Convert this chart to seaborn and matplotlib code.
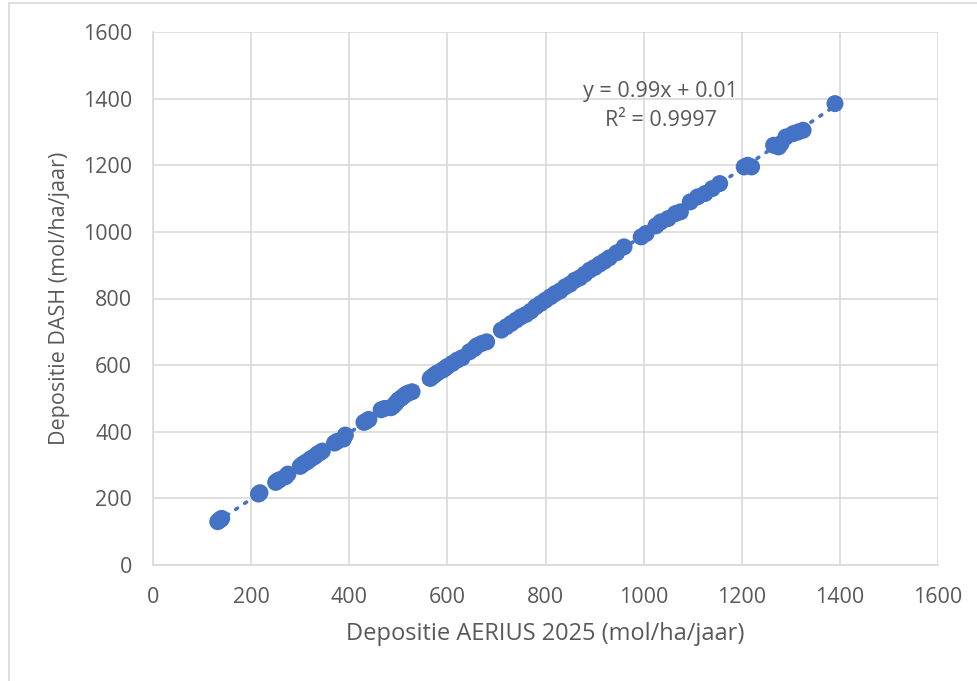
import numpy as np
import pandas as pd
import matplotlib
matplotlib.use("Agg")
import matplotlib.pyplot as plt
from matplotlib.lines import Line2D
import seaborn as sns

# values
aerius = [132, 135, 138, 140, 215, 218, 250, 253, 258, 270, 275,
          300, 305, 310, 315, 320, 325, 330, 335, 340, 345,
          370, 375, 388, 392, 430, 435, 440,
          465, 472, 485, 490, 495, 500, 505, 510, 515, 520, 528,
          565, 570, 575, 580, 590, 595, 600, 610, 620, 630,
          645, 655, 660, 670, 680,
          710, 720, 730, 740, 750, 760, 770, 780,
          790, 800, 810, 820, 830, 840, 850, 860, 870, 880, 890, 900,
          910, 920, 930, 945, 960, 995, 1005,
          1025, 1035, 1050, 1065, 1075, 1095, 1110, 1125, 1140, 1155,
          1205, 1212, 1220, 1265, 1275, 1280, 1290, 1305, 1315, 1325, 1390]
dash = [130, 134, 137, 140, 213, 217, 248, 252, 256, 265, 273,
        296, 302, 307, 311, 317, 322, 326, 333, 337, 342,
        366, 371, 378, 390, 428, 432, 437,
        466, 470, 472, 478, 486, 495, 500, 506, 512, 516, 520,
        560, 566, 572, 577, 585, 590, 596, 605, 615, 622,
        640, 650, 658, 665, 670,
        705, 715, 725, 735, 745, 752, 762, 775,
        785, 795, 805, 815, 823, 835, 843, 855, 862, 873, 885, 893,
        903, 912, 922, 937, 955, 985, 995,
        1018, 1030, 1040, 1055, 1060, 1090, 1105, 1115, 1130, 1145,
        1195, 1200, 1195, 1260, 1255, 1265, 1285, 1295, 1300, 1305, 1385]
ticks = [0, 200, 400, 600, 800, 1000, 1200, 1400, 1600]
trend_label = "y = 0.99x + 0.01\nR² = 0.9997"

df = pd.DataFrame({"aerius": aerius, "dash": dash})

sns.set_theme(style="white")
plt.rcParams["font.family"] = ["Open Sans", "DejaVu Sans"]

blue = "#4472C4"
grey_txt = "#595959"
grid_col = "#D9D9D9"

fig = plt.figure(figsize=(9.78, 6.81), dpi=100)
ax = fig.add_axes([153 / 978, 1 - 565 / 681, 785 / 978, 533 / 681])

# dotted linear trendline over the data range
slope, icpt = np.polyfit(df["aerius"], df["dash"], 1)
xs = np.array([df["aerius"].min(), df["aerius"].max()])
ax.plot(xs, slope * xs + icpt, color=blue, lw=2.6, linestyle=(0, (0.6, 2.4)),
        dash_capstyle="round", zorder=2)

sns.scatterplot(data=df, x="aerius", y="dash", ax=ax, color=blue, s=150,
                edgecolor="none", linewidth=0, zorder=3)

ax.set_xlim(0, 1600)
ax.set_ylim(0, 1600)
ax.set_xticks(ticks)
ax.set_yticks(ticks)
ax.grid(True, color=grid_col, lw=1.2)
ax.set_axisbelow(True)
for side in ["top", "right"]:
    ax.spines[side].set_visible(False)
for side in ["left", "bottom"]:
    ax.spines[side].set_color(grid_col)
    ax.spines[side].set_linewidth(1.2)
ax.tick_params(axis="both", length=0, labelsize=15.5, labelcolor=grey_txt)
ax.tick_params(axis="x", pad=16)
ax.tick_params(axis="y", pad=15)

ax.set_xlabel("Depositie AERIUS 2025 (mol/ha/jaar)", fontsize=17, color=grey_txt, labelpad=10)
ax.set_ylabel("Depositie DASH (mol/ha/jaar)", fontsize=15.5, color=grey_txt, labelpad=9)

ax.text(1035, 1378, trend_label, ha="center", va="center", fontsize=15.5,
        color=grey_txt, linespacing=1.45)

# chart area border (left and top visible)
fig.add_artist(Line2D([8.5 / 978, 8.5 / 978], [0, 1 - 3 / 681], color=grid_col, lw=1.2))
fig.add_artist(Line2D([8.5 / 978, 1], [1 - 3 / 681, 1 - 3 / 681], color=grid_col, lw=1.2))

fig.savefig("out.png", dpi=100, facecolor="white")
